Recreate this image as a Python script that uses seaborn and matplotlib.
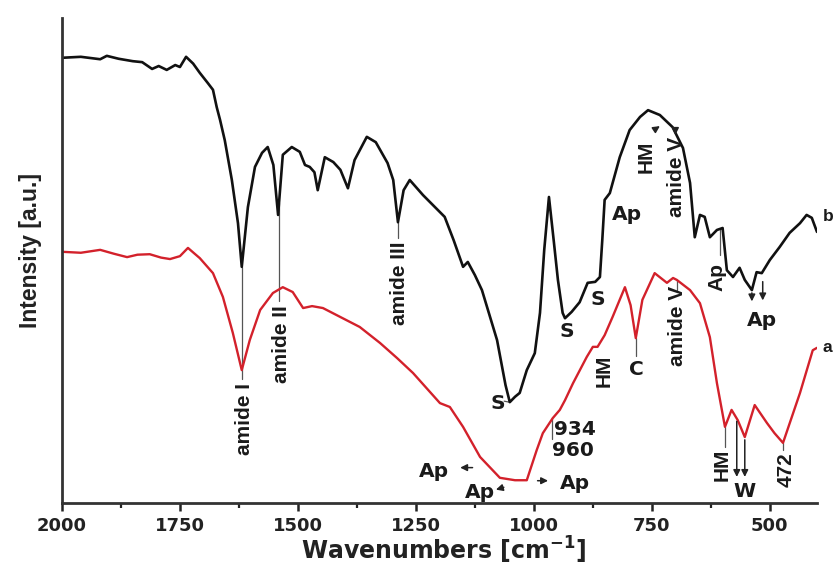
import numpy as np
import pandas as pd
import matplotlib
matplotlib.use("Agg")
import matplotlib.pyplot as plt
import seaborn as sns

# FTIR spectrum b (upper trace)
wavenumber_b = [2000, 1960, 1919, 1905, 1880, 1850, 1830, 1809, 1795, 1778, 1760, 1750,
                1737, 1722, 1708, 1691, 1680, 1672, 1665, 1655, 1640, 1627, 1619, 1606,
                1591, 1576, 1564, 1552, 1542, 1532, 1513, 1496, 1485, 1475, 1465, 1458,
                1443, 1425, 1410, 1394, 1380, 1354, 1335, 1310, 1298, 1288, 1276, 1263,
                1235, 1189, 1170, 1150, 1140, 1125, 1110, 1078, 1060, 1051, 1040, 1030,
                1015, 998, 987, 978, 968, 958, 949, 939, 934, 920, 903, 886, 870, 860,
                855, 850, 839, 818, 797, 775, 758, 733, 706, 684, 669, 659, 648, 638,
                627, 612, 600, 591, 578, 564, 553, 538, 528, 517, 500, 479, 458, 436,
                422, 411, 400]
intensity_b = [91.8, 92.0, 91.5, 92.2, 91.6, 91.1, 90.9, 89.5, 90.1, 89.3, 90.3, 89.9,
               92.0, 90.6, 88.7, 86.6, 85.2, 81.6, 79.0, 74.8, 66.6, 57.7, 48.7, 61.0,
               69.3, 72.2, 73.4, 69.7, 59.4, 71.8, 73.4, 72.4, 69.7, 69.3, 68.2, 64.5,
               71.3, 70.3, 68.7, 64.9, 70.7, 75.5, 74.4, 70.1, 66.6, 57.9, 64.5, 66.6,
               63.5, 59.0, 54.2, 48.7, 49.7, 47.0, 43.9, 33.6, 24.3, 20.8, 21.9, 22.7,
               27.4, 30.9, 39.2, 52.2, 63.1, 54.2, 46.0, 39.2, 38.1, 39.4, 41.4, 45.4,
               45.6, 46.6, 54.2, 62.5, 63.9, 71.3, 76.9, 79.6, 81.0, 80.0, 77.5, 73.2,
               66.0, 54.8, 59.4, 59.0, 54.8, 56.3, 56.7, 48.0, 46.6, 48.5, 46.0, 43.9,
               47.6, 47.4, 50.1, 52.8, 55.7, 57.7, 59.4, 58.8, 55.9]

# FTIR spectrum a (lower trace)
wavenumber_a = [2000, 1960, 1919, 1890, 1862, 1840, 1814, 1790, 1771, 1750, 1733, 1720,
                1708, 1680, 1659, 1638, 1619, 1602, 1580, 1553, 1532, 1511, 1489, 1470,
                1447, 1405, 1369, 1326, 1290, 1256, 1199, 1178, 1150, 1114, 1072, 1040,
                1015, 994, 981, 960, 945, 934, 917, 888, 875, 865, 850, 833, 807, 795,
                784, 770, 744, 718, 705, 697, 669, 648, 627, 612, 595, 581, 568, 553,
                532, 506, 490, 472, 436, 409, 400]
intensity_a = [51.8, 51.6, 52.2, 51.4, 50.7, 51.2, 51.3, 50.6, 50.3, 50.9, 52.6, 51.5,
               50.5, 47.4, 42.5, 35.1, 27.4, 33.6, 39.8, 43.3, 44.5, 43.5, 40.2, 40.6,
               40.2, 38.1, 36.3, 33.0, 29.9, 26.8, 20.6, 19.8, 15.7, 9.5, 5.2, 4.7,
               4.7, 10.9, 14.4, 17.5, 19.2, 21.2, 24.7, 30.1, 32.2, 32.2, 34.6, 38.4,
               44.5, 40.8, 34.0, 41.9, 47.4, 45.4, 46.4, 46.0, 43.9, 41.2, 34.2, 24.7,
               15.7, 19.2, 17.1, 13.6, 20.2, 16.5, 14.4, 12.4, 22.7, 31.5, 32.0]

x_ticks = [2000, 1750, 1500, 1250, 1000, 750, 500]
x_minor_ticks = [1875, 1625, 1375, 1125, 875, 625]

sns.set_style("ticks")
plt.rcParams["font.family"] = ["DejaVu Sans"]

fig, ax = plt.subplots(figsize=(8.34, 5.70), dpi=100)
fig.subplots_adjust(left=0.0743, right=0.9796, bottom=0.1175, top=0.9684)

df_b = pd.DataFrame({"wn": wavenumber_b, "I": intensity_b})
df_a = pd.DataFrame({"wn": wavenumber_a, "I": intensity_a})
sns.lineplot(data=df_b, x="wn", y="I", color="#111111", lw=1.9, estimator=None, ax=ax)
sns.lineplot(data=df_a, x="wn", y="I", color="#d3212b", lw=1.7, estimator=None, ax=ax)

ax.set_xlim(2000, 400)
ax.set_ylim(0, 100)
ax.set_yticks([])
ax.set_xticks(x_ticks)
ax.set_xticks(x_minor_ticks, minor=True)
ax.tick_params(axis="x", which="major", direction="out", length=6, width=1.8,
               labelsize=13, pad=4, colors="#222222")
ax.tick_params(axis="x", which="minor", direction="out", length=3.5, width=1.6,
               colors="#222222")
for lab in ax.get_xticklabels():
    lab.set_fontweight("bold")
for side in ("top", "right"):
    ax.spines[side].set_visible(False)
for side in ("left", "bottom"):
    ax.spines[side].set_linewidth(2.0)
    ax.spines[side].set_color("#333333")

ax.set_xlabel("Wavenumbers [cm$^{\\mathbf{-1}}$]", fontsize=17, fontweight="bold",
              color="#222222")
ax.xaxis.set_label_coords(0.506, -0.066)
ax.set_ylabel("Intensity [a.u.]", fontsize=16.5, fontweight="bold",
              family="Liberation Sans", color="#222222")
ax.yaxis.set_label_coords(-0.026, 0.52)


def curve(wn, inten, x):
    order = np.argsort(wn)
    return float(np.interp(x, np.asarray(wn)[order], np.asarray(inten)[order]))


def cb(x):
    return curve(wavenumber_b, intensity_b, x)


def ca(x):
    return curve(wavenumber_a, intensity_a, x)


lead = dict(color="#555555", lw=0.9, zorder=1)
hfont = dict(fontsize=14.5, fontweight="bold", color="#1a1a1a")
vfont = dict(fontsize=15, fontweight="bold", color="#1a1a1a",
             family="Liberation Sans", rotation=90)
arrow = dict(arrowstyle="-|>,head_length=0.4,head_width=0.2", color="#222222", lw=1.1)

# --- band assignments of spectrum b ---
ax.plot([1619, 1619], [cb(1619), 25.6], **lead)
ax.text(1614, 24.8, "amide I", ha="center", va="top", **vfont)
ax.plot([1540, 1540], [cb(1540), 41.6], **lead)
ax.text(1535, 40.8, "amide II", ha="center", va="top", **vfont)
ax.plot([1288, 1288], [cb(1288), 54.6], **lead)
ax.text(1284, 54.0, "amide III", ha="center", va="top", **vfont)

ax.text(1076, 20.6, "S", ha="center", va="center", **hfont)
ax.plot([1063, 1052], [21.0, cb(1051)], **lead)
ax.text(930, 35.3, "S", ha="center", va="center", **hfont)
ax.text(864, 41.9, "S", ha="center", va="center", **hfont)
ax.text(803, 59.4, "Ap", ha="center", va="center", **hfont)
ax.text(763, 71.3, "HM", ha="center", va="center", **vfont)
ax.annotate("", xy=(728, cb(728) - 1.5), xytext=(744, 77.0), arrowprops=arrow)
ax.text(697, 67.2, "amide V", ha="center", va="center", **vfont)
ax.annotate("", xy=(700, cb(700) - 1.0), xytext=(700, 77.8), arrowprops=arrow)
ax.plot([606, 606], [cb(606), 51.2], **lead)
ax.text(612, 46.6, "Ap", ha="center", va="center", **vfont)
ax.annotate("", xy=(538, 41.0), xytext=(538, cb(538)), arrowprops=arrow)
ax.annotate("", xy=(515, 41.2), xytext=(515, cb(515) - 1.5), arrowprops=arrow)
ax.text(517, 37.6, "Ap", ha="center", va="center", **hfont)

# --- band assignments of spectrum a ---
ax.text(852, 27.2, "HM", ha="center", va="center", **vfont)
ax.plot([784, 784], [ca(784), 30.4], **lead)
ax.text(782, 27.6, "C", ha="center", va="center", **hfont)
ax.text(695, 36.5, "amide V", ha="center", va="center", **vfont)
ax.plot([697, 697], [44.0, ca(697)], **lead)
ax.plot([962, 962], [13.3, 17.6], **lead)
ax.text(958, 15.2, "934", ha="left", va="center", **hfont)
ax.text(961, 10.8, "960", ha="left", va="center", **hfont)
ax.text(1212, 6.6, "Ap", ha="center", va="center", **hfont)
ax.annotate("", xy=(1162, 7.3), xytext=(1124, 7.3), arrowprops=arrow)
ax.text(1114, 2.2, "Ap", ha="center", va="center", **hfont)
ax.annotate("", xy=(1086, 2.6), xytext=(1058, 3.4), arrowprops=arrow)
ax.text(913, 4.0, "Ap", ha="center", va="center", **hfont)
ax.annotate("", xy=(964, 4.6), xytext=(998, 4.6), arrowprops=arrow)
ax.plot([595, 595], [ca(595), 11.6], **lead)
ax.text(601, 7.8, "HM", ha="center", va="center", **vfont)
ax.annotate("", xy=(570, 4.8), xytext=(570, ca(570)), arrowprops=arrow)
ax.annotate("", xy=(553, 4.8), xytext=(553, ca(553)), arrowprops=arrow)
ax.text(553, 2.4, "W", ha="center", va="center", **hfont)
ax.plot([472, 472], [ca(472), 10.9], **lead)
ax.text(466, 6.8, "472", ha="center", va="center", **vfont)

# trace labels
tfont = dict(fontsize=12.5, fontweight="bold", color="#1a1a1a", family="Liberation Sans")
ax.text(388, 59.0, "b", ha="left", va="center", clip_on=False, **tfont)
ax.text(388, 32.0, "a", ha="left", va="center", clip_on=False, **tfont)

fig.savefig("out.png", dpi=100)
